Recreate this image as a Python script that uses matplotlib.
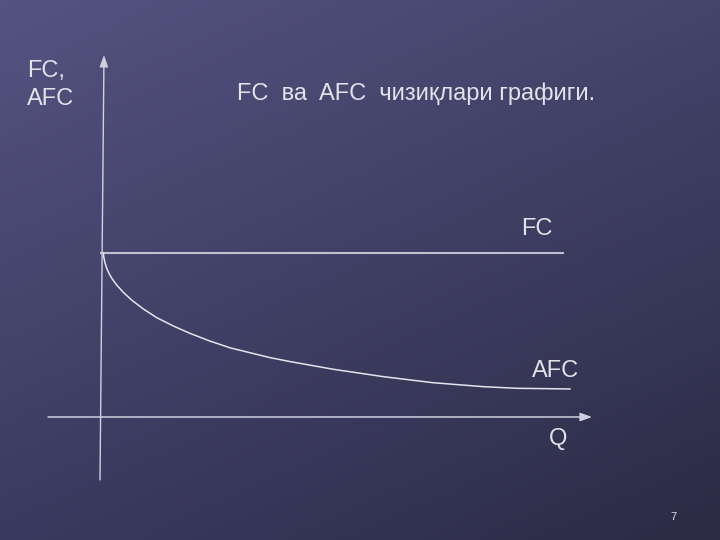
import numpy as np
import matplotlib
matplotlib.use("Agg")
import matplotlib.pyplot as plt

# ---- data (chart units: Q along the horizontal axis, cost along the vertical) ----
fc_level = 10.0
fc_q = [0.0, 9.87]
afc_q = [0.070, 0.085, 0.106, 0.143, 0.191, 0.262, 0.355, 0.496, 0.674, 0.921,
         1.206, 1.560, 1.915, 2.340, 2.766, 3.191, 3.617, 4.043, 4.964, 6.028,
         7.09, 8.155, 8.866, 10.0]
afc_c = [9.98, 9.68, 9.41, 9.07, 8.76, 8.41, 8.05, 7.60, 7.13, 6.59,
         6.06, 5.55, 5.10, 4.63, 4.22, 3.92, 3.62, 3.38, 2.91, 2.46,
         2.09, 1.85, 1.75, 1.71]
y_axis_label = ["FC,", "AFC"]
x_axis_label = "Q"
title = "FC  ва  AFC  чизиқлари графиги."
curve_labels = ["FC", "AFC"]
page_number = "7"

W, H = 720, 540
fig = plt.figure(figsize=(W / 100, H / 100), dpi=100)

# background gradient
bg = fig.add_axes([0, 0, 1, 1], zorder=0)
tl = np.array([0x55, 0x53, 0x80]) / 255
tr = np.array([0x44, 0x44, 0x6c]) / 255
bl = np.array([0x3a, 0x3a, 0x60]) / 255
br = np.array([0x2b, 0x2b, 0x45]) / 255
u = np.linspace(0, 1, 200)[None, :, None]
v = np.linspace(0, 1, 150)[:, None, None]
img = (1 - v) * ((1 - u) * tl + u * tr) + v * ((1 - u) * bl + u * br)
bg.imshow(img, aspect="auto", extent=[0, 1, 0, 1])
bg.set_axis_off()

# chart axes spanning the figure; origin at pixel (100, 417)
ax = fig.add_axes([0, 0, 1, 1], zorder=1)
ax.patch.set_alpha(0)
sx, sy = 47.0, 16.4
ax.set_xlim(-100 / sx, (W - 100) / sx)
ax.set_ylim(-(H - 417) / sy, 417 / sy)
ax.set_axis_off()

line_col = "#d0d0e0"
arrow_style = "-|>,head_length=0.7,head_width=0.25"
# horizontal axis
ax.annotate("", xy=(10.47, 0), xytext=(-1.106, 0),
            arrowprops=dict(arrowstyle=arrow_style, lw=1.1, color=line_col,
                            shrinkA=0, shrinkB=0, mutation_scale=10))
# vertical axis
ax.annotate("", xy=(0.085, 22.07), xytext=(0.0, -3.84),
            arrowprops=dict(arrowstyle=arrow_style, lw=1.0, color=line_col,
                            shrinkA=0, shrinkB=0, mutation_scale=10))

# FC line
ax.plot(fc_q, [fc_level, fc_level], color="#c0c0d2", lw=1.5, solid_capstyle="butt")
# AFC curve
ax.plot(afc_q, afc_c, color="#e4e4ee", lw=1.1, solid_joinstyle="round")

fam = ["Liberation Sans", "DejaVu Sans"]
tc = "#e2e2ea"

def ptext(x, y, s, size=17, **kw):
    fig.text(x / W, 1 - y / H, s, fontsize=size, color=tc, family=fam,
             va="baseline", ha="left", zorder=3, **kw)

ptext(27, 77, y_axis_label[0])
ptext(27, 105, y_axis_label[1])
ptext(237, 100, title)
ptext(521, 235, curve_labels[0])
ptext(532, 377, curve_labels[1])
ptext(549, 445, x_axis_label)
ptext(670, 520, page_number, size=8)

fig.savefig("out.png", dpi=100)
